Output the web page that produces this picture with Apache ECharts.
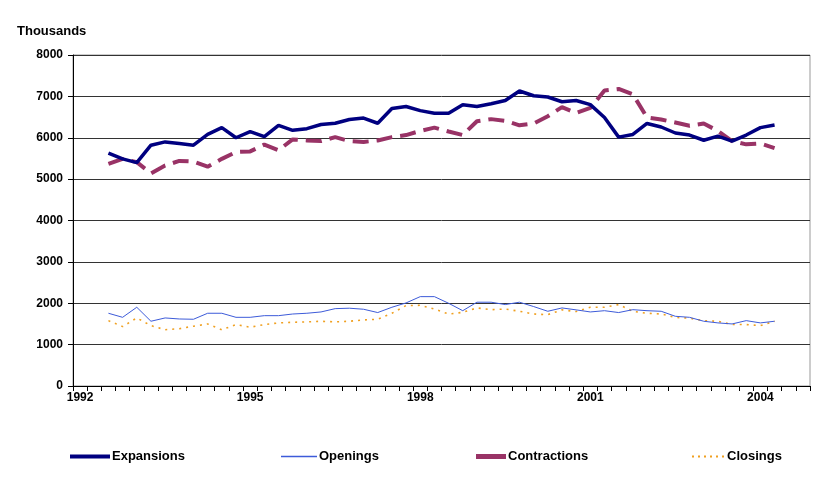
<!DOCTYPE html>
<html>
<head>
<meta charset="utf-8">
<script src="https://cdn.jsdelivr.net/npm/echarts@6/dist/echarts.min.js"></script>
<style>html,body{margin:0;padding:0;background:#fff}#c{width:832px;height:478px}</style>
</head>
<body>
<div id="c"></div>
<script>
// Quarterly categories 1992 Q1 .. 2004 Q4
const years = [1992,1993,1994,1995,1996,1997,1998,1999,2000,2001,2002,2003,2004];
const categories = [];
years.forEach(y => { for (let q = 1; q <= 4; q++) categories.push(y + ' Q' + q); });

const expansions = [null,null,
  5630,5490,5400,5820,5900,5860,5820,6080,6245,6000,6150,6025,6300,6180,6220,6320,6350,6440,6475,6350,6705,6755,6655,6590,
  6590,6800,6755,6820,6900,7130,7015,6985,6870,6900,6800,6490,6015,6080,6345,6260,6115,6065,5940,6040,5920,6065,6245,6310,
  null,null];
const openings = [null,null,
  1758,1660,1903,1565,1645,1620,1613,1758,1758,1660,1660,1700,1700,1740,1758,1790,1870,1880,1855,1775,1903,2008,2160,2160,
  2000,1820,2025,2025,1968,2025,1920,1806,1887,1840,1790,1820,1775,1845,1820,1806,1685,1660,1565,1525,1500,1580,1525,1565,
  null,null];
const contractions = [null,null,
  5370,5490,5410,5140,5330,5440,5425,5300,5490,5655,5670,5835,5700,5960,5935,5920,6015,5920,5900,5935,6015,6065,6165,6245,
  6150,6065,6400,6450,6410,6300,6345,6520,6740,6600,6720,7140,7180,7050,6490,6440,6370,6290,6345,6165,5920,5840,5860,5750,
  null,null];
const closings = [null,null,
  1580,1435,1645,1460,1360,1385,1445,1500,1360,1485,1420,1485,1525,1540,1550,1565,1550,1565,1597,1613,1758,1945,1950,1860,
  1740,1780,1887,1845,1860,1806,1740,1725,1840,1800,1903,1903,1968,1806,1758,1740,1660,1637,1580,1565,1485,1485,1460,1565,
  null,null];

const chart = echarts.init(document.getElementById('c'), null, {renderer: 'canvas'});
const fontFam = 'Liberation Sans, Arial, sans-serif';
function legendAt(name, left, w, h, icon) {
  return {
    data: [name], left: left, top: 445, itemWidth: w, itemHeight: h, itemGap: 0, icon: icon,
    textStyle: {fontFamily: fontFam, fontSize: 13, fontWeight: 'bold', color: '#000', padding: [0,0,0,-3]},
    selectedMode: false
  };
}
const dotted = 'path://M0,0h2v2h-2z M6,0h2v2h-2z M12,0h2v2h-2z M18,0h2v2h-2z M24,0h2v2h-2z M30,0h2v2h-2z';
chart.setOption({
  animation: false,
  backgroundColor: '#fff',
  title: {text: 'Thousands', left: 12, top: 20, textStyle: {fontFamily: fontFam, fontSize: 13, fontWeight: 'bold', color: '#000'}},
  grid: {left: 73, right: 22, top: 55, bottom: 92, show: true, borderColor: '#999', borderWidth: 1},
  legend: [
    legendAt('Expansions', 65, 40, 4, 'rect'),
    legendAt('Openings', 276, 36, 1.5, 'rect'),
    legendAt('Contractions', 471, 30, 5, 'rect'),
    legendAt('Closings', 687, 34, 2, dotted)
  ],
  xAxis: {
    type: 'category', data: categories, boundaryGap: true,
    axisLine: {show: true, lineStyle: {color: '#000', width: 1}},
    axisTick: {show: true, interval: 0, length: 5, lineStyle: {color: '#000'}},
    axisLabel: {
      interval: 11, margin: 6,
      formatter: v => v.slice(0, 4),
      fontFamily: fontFam, fontSize: 12, fontWeight: 'bold', color: '#000'
    },
    splitLine: {show: false}
  },
  yAxis: {
    type: 'value', min: 0, max: 8000, interval: 1000,
    axisLine: {show: true, lineStyle: {color: '#000', width: 1}},
    axisTick: {show: true, length: 5, lineStyle: {color: '#000'}},
    axisLabel: {margin: 10, formatter: v => String(v), fontFamily: fontFam, fontSize: 12, fontWeight: 'bold', color: '#000'},
    splitLine: {show: true, lineStyle: {color: '#333', width: 1}}
  },
  series: [
    {name: 'Expansions', type: 'line', data: expansions, symbol: 'none', connectNulls: false,
      lineStyle: {color: '#000080', width: 3.5}, itemStyle: {color: '#000080'}, z: 4},
    {name: 'Openings', type: 'line', data: openings, symbol: 'none',
      lineStyle: {color: '#3d5bd9', width: 1}, itemStyle: {color: '#3d5bd9'}, z: 3},
    {name: 'Contractions', type: 'line', data: contractions, symbol: 'none',
      lineStyle: {color: '#993366', width: 4, type: [16, 8]}, itemStyle: {color: '#993366'}, z: 3},
    {name: 'Closings', type: 'line', data: closings, symbol: 'none',
      lineStyle: {color: '#f0a020', width: 1.6, type: [2, 5]}, itemStyle: {color: '#f0a020'}, z: 2}
  ]
});
</script>
</body>
</html>
